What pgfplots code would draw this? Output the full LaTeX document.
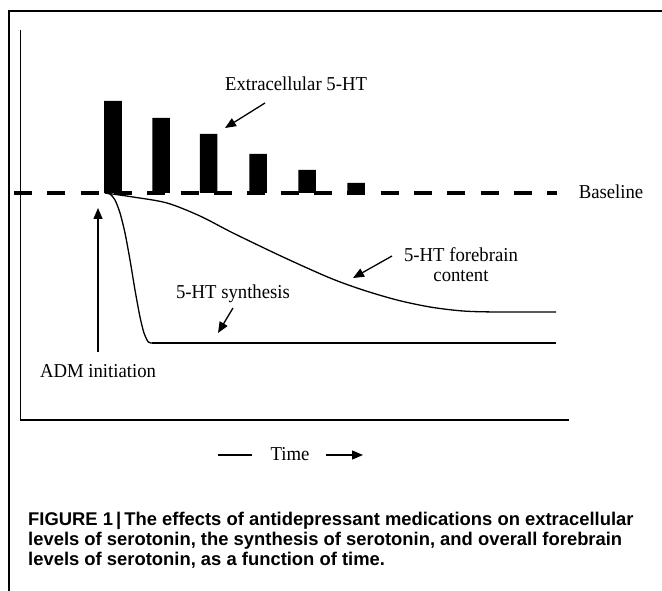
\documentclass[border=0pt]{standalone}
\usepackage{pgfplots}
\pgfplotsset{compat=1.18}
\usetikzlibrary{arrows.meta}
\usepackage{fontspec}
\setmainfont{Liberation Serif}[FakeStretch=0.95]
\newfontfamily\capfont{Liberation Sans}

\begin{document}
\begin{tikzpicture}[
    lbl/.style={font=\fontsize{19.7}{21}\selectfont, inner sep=0pt, anchor=base},
    arr/.style={line width=1.3pt, -{Triangle[length=11pt,width=9pt]}},
    captext/.style={inner sep=0pt, anchor=base west, font=\capfont\bfseries\fontsize{18.4}{20}\selectfont}
]
\begin{axis}[
    scale only axis,
    width=548.5pt, height=390pt,
    xmin=20.5, xmax=569,
    ymin=-227, ymax=163,
    axis x line=bottom, axis y line=left,
    x axis line style={-}, y axis line style={-},
    axis line style={line width=1.3pt},
    xtick=\empty, ytick=\empty,
    clip=false
]
% extracellular 5-HT (bars above baseline)
\addplot[ybar, bar width=17.5, fill=black, draw=none] coordinates {
    (113,92) (161,75) (208.5,59) (258,39) (307,23) (356,10)
};
% baseline
\addplot[line width=4pt, dash pattern=on 18pt off 15.33pt] coordinates {(14,0) (557,0)};
% 5-HT synthesis
\addplot[line width=1.3pt, smooth, tension=0.45] coordinates {
    (105,0) (110,-1) (115,-7) (120,-20) (125,-40) (130,-67) (135,-97)
    (140,-124) (144,-140) (148.3,-149) (152,-150)
};
\addplot[line width=1.3pt] coordinates {(152,-150) (556,-150)};
% 5-HT forebrain content
\addplot[line width=1.3pt, smooth, tension=0.5] coordinates {
    (105,0) (133,-4) (167,-10) (200,-23) (233,-40) (283,-64) (330,-85)
    (363,-97) (397,-107) (430,-114) (463,-118) (497,-119) (556,-119)
};

% annotations
\node[lbl] at (axis cs:296,102) {Extracellular 5-HT};
\draw[arr] (axis cs:265,90) -- (axis cs:225,65);
\node[lbl] at (axis cs:611,-6) {Baseline};
\node[lbl] at (axis cs:461,-69) {5-HT forebrain};
\node[lbl] at (axis cs:461,-89) {content};
\draw[arr] (axis cs:392,-63) -- (axis cs:353,-85);
\node[lbl] at (axis cs:233,-106) {5-HT synthesis};
\draw[arr] (axis cs:233,-115) -- (axis cs:218,-140);
\node[lbl] at (axis cs:98,-185) {ADM initiation};
\draw[arr] (axis cs:98,-159) -- (axis cs:98,-15);

% time axis label
\draw[line width=1.2pt] (axis cs:218,-262) -- (axis cs:252,-262);
\node[lbl] at (axis cs:290,-268) {Time};
\draw[arr] (axis cs:326,-262) -- (axis cs:363,-262);

% outer frame
\draw[line width=1.4pt] (axis cs:662,182) -- (axis cs:9,182) -- (axis cs:9,-398);

% caption
\node[captext] at (axis cs:28,-333) {FIGURE 1\,|\,The effects of antidepressant medications on extracellular};
\node[captext] at (axis cs:28,-353) {levels of serotonin, the synthesis of serotonin, and overall forebrain};
\node[captext] at (axis cs:28,-373) {levels of serotonin, as a function of time.};

\coordinate (bl) at (axis cs:0,-398);
\coordinate (tr) at (axis cs:662,193);
\end{axis}
\pgfresetboundingbox
\useasboundingbox (bl) rectangle (tr);
\end{tikzpicture}
\end{document}
